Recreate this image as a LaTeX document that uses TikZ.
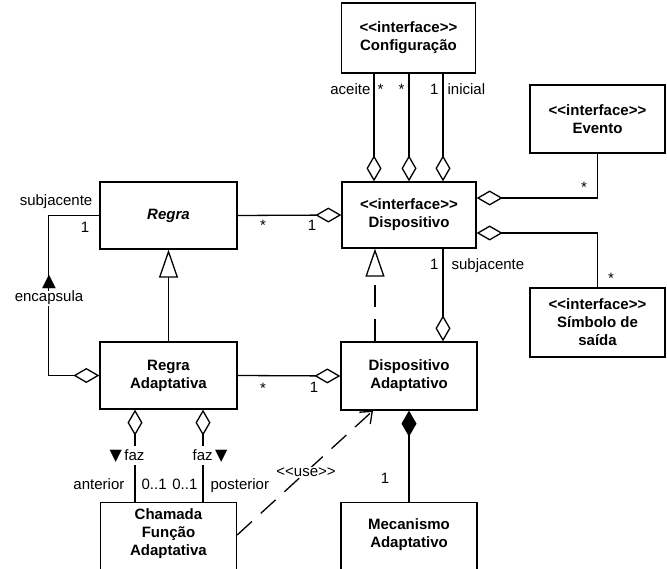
\documentclass[tikz,border=0pt]{standalone}
\usepackage{fontspec}
\setmainfont{Liberation Sans}[Ligatures=TeXOff]
\newfontfamily\symfont{DejaVu Sans}
\usetikzlibrary{arrows.meta}
\tikzset{
  box/.style={draw, line width=1.3pt, inner sep=0pt, align=center, font=\fontsize{15}{18}\selectfont\bfseries},
  btext/.style={inner sep=0pt, align=center, font=\fontsize{15}{18}\selectfont\bfseries},
  lbl/.style={inner sep=0pt, font=\fontsize{15}{18}\selectfont},
  agg/.style={-{Diamond[open,length=26pt,width=15pt]}},
  comp/.style={-{Diamond[length=26pt,width=15pt]}},
  gen/.style={-{Triangle[open,length=28pt,width=19pt]}},
  real/.style={gen, dash pattern=on 22pt off 12pt},
  dep/.style={-{Straight Barb[length=10pt,width=16pt]}, dash pattern=on 20pt off 12pt},
}
\begin{document}
\begin{tikzpicture}[x=1pt, y=-1pt, line width=1.3pt]
\clip (0,0) rectangle (667,569);
\fill[white] (0,0) rectangle (667,569);
% classes
\node[box, minimum width=134pt, minimum height=70pt] (conf) at (408.5,38) {<<interface>>\\Configuração};
\node[box, minimum width=135pt, minimum height=68pt] (evt) at (597.5,119) {<<interface>>\\Evento};
\node[box, minimum width=134pt, minimum height=66pt] (disp) at (409,215) {<<interface>>\\Dispositivo};
\node[box, minimum width=137pt, minimum height=67pt, font=\fontsize{15}{18}\selectfont\bfseries\itshape] (regra) at (168.5,215.5) {Regra};
\node[box, minimum width=137pt, minimum height=67pt] (ra) at (168.5,375.5) {Regra\\Adaptativa};
\node[box, minimum width=136pt, minimum height=68pt] (da) at (409,376) {Dispositivo\\Adaptativo};
\node[box, minimum width=135pt, minimum height=69pt] (sim) at (597.5,322.5) {<<interface>>\\Símbolo de\\saída};
\node[box, minimum width=136pt, minimum height=90pt, anchor=north] (ch) at (168.5,502) {};
\node[btext] (cht) at (168.5,534) {Chamada\\Função\\Adaptativa};
\node[box, minimum width=136pt, minimum height=90pt, anchor=north] (mec) at (409,502) {};
\node[btext] (mect) at (409,535) {Mecanismo\\Adaptativo};
% connectors
\draw[agg] ([xshift=-34.5pt]conf.south) -- ([xshift=-35pt]disp.north);
\draw[agg] ([xshift=0.5pt]conf.south) -- (disp.north);
\draw[agg] ([xshift=34.5pt]conf.south) -- ([xshift=34pt]disp.north);
\draw[agg] (evt.south) |- ([yshift=17pt]disp.east);
\draw[agg] (sim.north) |- ([yshift=-18pt]disp.east);
\draw[agg] (regra.east) -- (disp.west);
\draw[gen] (ra.north) -- (regra.south);
\draw[agg] (regra.west) -- ++(-51,0) |- (ra.west);
\draw[agg] (ra.east) -- (da.west);
\draw[real] ([xshift=-34pt]da.north) -- ([xshift=-34pt]disp.south);
\draw[agg] ([xshift=34pt]disp.south) -- ([xshift=34pt]da.north);
\draw[comp] (mec.north) -- (da.south);
\draw[agg] ([xshift=-33.5pt]ch.north) -- ([xshift=-33.5pt]ra.south);
\draw[agg] ([xshift=34.5pt]ch.north) -- ([xshift=34.5pt]ra.south);
\draw[dep] ([yshift=-33pt]ch.north east) -- ([xshift=-36pt]da.south);
% labels
\node[lbl, anchor=base east] (l1) at (371,95) {aceite};
\node[lbl, anchor=base west] (l2) at (377,95) {*};
\node[lbl, anchor=base east] (l3) at (405,95) {*};
\node[lbl, anchor=base east] (l4) at (439,95) {1};
\node[lbl, anchor=base west] (l5) at (447,95) {inicial};
\node[lbl, anchor=base] (l6) at (584,193) {*};
\node[lbl, anchor=base] (l7) at (611,284) {*};
\node[lbl, anchor=base east] (l8) at (93,206) {subjacente};
\node[lbl, anchor=base] (l9) at (85,233) {1};
\node[lbl, anchor=base] (l10) at (263,231) {*};
\node[lbl, anchor=base] (l11) at (312,231) {1};
\node[lbl, anchor=base] (l12) at (263,393) {*};
\node[lbl, anchor=base] (l13) at (314,392) {1};
\node[lbl, anchor=base east] (l14) at (439,270) {1};
\node[lbl, anchor=base west] (l15) at (451,270) {subjacente};
\node[lbl, anchor=base, fill=white, inner ysep=0.5pt] (enc) at (49,302) {encapsula};
\node[lbl, anchor=base, font=\symfont\fontsize{18}{18}\selectfont] (tri) at (49,287) {▲};
\node[lbl, anchor=base, fill=white, inner ysep=3pt] (faz1) at (127,460) {{\symfont\fontsize{16}{16}\selectfont ▼}\,faz};
\node[lbl, anchor=base, fill=white, inner ysep=3pt] (faz2) at (210,460) {faz\,{\symfont\fontsize{16}{16}\selectfont ▼}};
\node[lbl, anchor=base east] (l16) at (125,489) {anterior};
\node[lbl, anchor=base west] (l17) at (141,489) {0..1};
\node[lbl, anchor=base east] (l18) at (198,489) {0..1};
\node[lbl, anchor=base west] (l19) at (210,489) {posterior};
\node[lbl, fill=white, inner sep=1pt] (use) at (306,472) {<<use>>};
\node[lbl, anchor=base] (l20) at (385,483) {1};
\end{tikzpicture}
\end{document}
